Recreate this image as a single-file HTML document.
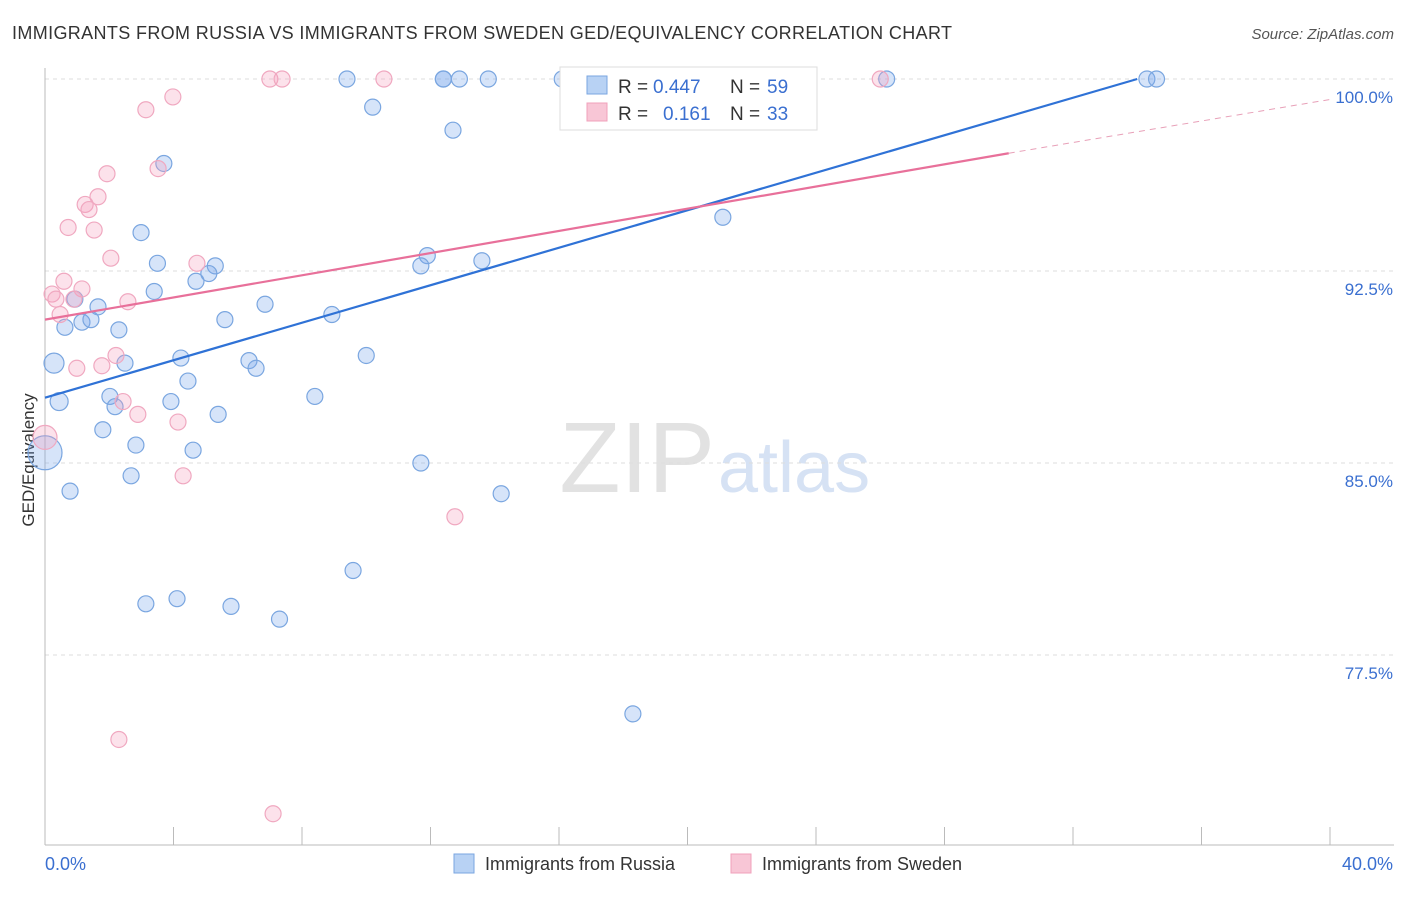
<!DOCTYPE html>
<html><head><meta charset="utf-8"><style>
body{margin:0;background:#fff;font-family:"Liberation Sans",sans-serif}
svg text{font-family:"Liberation Sans",sans-serif}
</style></head><body>
<svg id="c" width="1406" height="892">
<text x="12" y="39" font-size="18" fill="#333" textLength="940">IMMIGRANTS FROM RUSSIA VS IMMIGRANTS FROM SWEDEN GED/EQUIVALENCY CORRELATION CHART</text>
<text x="1394" y="39" font-size="15" fill="#555" font-style="italic" text-anchor="end">Source: ZipAtlas.com</text>
<text x="715" y="492" font-size="100" fill="#e2e2e2" text-anchor="end" font-family="Liberation Serif">ZIP</text>
<text x="718" y="492" font-size="72" fill="#d6e2f4">atlas</text>
<text transform="translate(34,460) rotate(-90)" font-size="17" fill="#333" text-anchor="middle">GED/Equivalency</text>
<g id="grid"></g><g id="marks"></g>
<g>
<rect x="560" y="67" width="257" height="63" fill="#fff" stroke="#ddd"/>
<rect x="587" y="76" width="20" height="18" fill="#b8d2f4" stroke="#7aa6e0"/>
<rect x="587" y="103" width="20" height="18" fill="#f8c6d6" stroke="#f0a0bb"/>
<text x="618" y="93" font-size="19" fill="#333">R =</text>
<text x="653" y="93" font-size="19" fill="#3a6fd0">0.447</text>
<text x="730" y="93" font-size="19" fill="#333">N =</text>
<text x="767" y="93" font-size="19" fill="#3a6fd0">59</text>
<text x="618" y="120" font-size="19" fill="#333">R =</text>
<text x="663" y="120" font-size="19" fill="#3a6fd0">0.161</text>
<text x="730" y="120" font-size="19" fill="#333">N =</text>
<text x="767" y="120" font-size="19" fill="#3a6fd0">33</text>
</g>
<g>
<rect x="454" y="854" width="20" height="19" fill="#b8d2f4" stroke="#7aa6e0"/>
<text x="485" y="870" font-size="18" fill="#333">Immigrants from Russia</text>
<rect x="731" y="854" width="20" height="19" fill="#f8c6d6" stroke="#f0a0bb"/>
<text x="762" y="870" font-size="18" fill="#333">Immigrants from Sweden</text>
</g>
</svg>
<script>
const yTicks=[100,92.5,85,77.5];
const yTickLabels=["100.0%","92.5%","85.0%","77.5%"];
const russiaX=[9.4,12.4,12.4,12.9,13.8,16.1,26.2,34.3,34.6,10.2,12.7,3.7,2.99,21.1,11.9,11.7,13.6,3.5,5.3,5.1,4.7,3.4,1.65,0.93,6.85,8.93,5.6,1.15,1.43,0.62,2.3,0.28,2.49,4.23,6.35,6.57,10.0,4.45,2.02,8.4,0.44,2.18,3.92,5.39,1.8,2.83,4.61,0.0,11.7,2.68,0.78,14.2,9.59,3.14,4.11,5.79,7.3,18.3];
const russiaY=[100,100,100,100,100,100,100,100,100,98.9,98.0,96.7,94.0,94.6,93.1,92.7,92.9,92.8,92.7,92.4,92.1,91.7,91.1,91.4,91.2,90.8,90.6,90.5,90.6,90.3,90.2,88.9,88.9,89.1,89.0,88.7,89.2,88.2,87.6,87.6,87.4,87.2,87.4,86.9,86.3,85.7,85.5,85.4,85.0,84.5,83.9,83.8,80.8,79.5,79.7,79.4,78.9,75.2];
const russiaR=[8,8,8,8,8,8,8,8,8,8,8,8,8,8,8,8,8,8,8,8,8,8,8,8,8,8,8,8,8,8,8,10,8,8,8,8,8,8,8,8,9,8,8,8,8,8,8,17,8,8,8,8,8,8,8,8,8,8];
const swedenX=[7.0,7.38,10.55,26.0,3.98,3.14,1.93,3.52,1.65,1.25,1.37,0.72,1.53,2.05,4.73,0.59,1.15,0.22,0.34,0.9,2.58,0.47,2.21,1.77,0.99,2.43,2.89,4.14,0.0,4.3,12.76,2.3,7.1];
const swedenY=[100,100,100,100,99.3,98.8,96.3,96.5,95.4,95.1,94.9,94.2,94.1,93.0,92.8,92.1,91.8,91.6,91.4,91.4,91.3,90.8,89.2,88.8,88.7,87.4,86.9,86.6,86.0,84.5,82.9,74.2,71.3];
const swedenR=[8,8,8,8,8,8,8,8,8,8,8,8,8,8,8,8,8,8,8,8,8,8,8,8,8,8,8,8,12,8,8,8,8];
const russiaTrend=[[0,87.55],[34.0,100]];
const swedenTrend=[[0,90.6],[30.0,97.1],[40.0,99.2]];
const X0=45,X1=1330,Y100=79,PPY=25.6;
const sx=v=>X0+(X1-X0)*v/40, sy=v=>Y100+(100-v)*PPY;
const NS="http://www.w3.org/2000/svg";
const mk=(t,a,p)=>{const e=document.createElementNS(NS,t);for(const k in a)e.setAttribute(k,a[k]);p.appendChild(e);return e;};
const g=document.getElementById('grid'),m=document.getElementById('marks');
yTicks.forEach((t,i)=>{
 const l=mk('line',{x1:X0,x2:1394,y1:sy(t),y2:sy(t),stroke:'#ddd','stroke-dasharray':'4,4'},g);
 
 
 const tx=mk('text',{x:1393,y:sy(t)+24,'font-size':17,fill:'#3a6fd0','text-anchor':'end'},g);tx.textContent=yTickLabels[i];
 
 
});
mk('line',{x1:X0,x2:X0,y1:68,y2:845,stroke:'#bbb'},g);
mk('line',{x1:X0,x2:1394,y1:845,y2:845,stroke:'#bbb'},g);
for(let i=0;i<=10;i++){const t=mk('line',{x1:sx(i*4),x2:sx(i*4),y1:827,y2:845,stroke:'#bbb'},g);
 
 }
let a=mk('text',{x:45,y:870,'font-size':18,fill:'#3a6fd0'},g);a.textContent='0.0%';


a=mk('text',{x:1393,y:870,'font-size':18,fill:'#3a6fd0','text-anchor':'end'},g);a.textContent='40.0%';


function pts(xs,ys,rs,fill,stroke,name){xs.forEach((x,i)=>{const c=mk('circle',{cx:sx(x),cy:sy(ys[i]),r:rs[i],fill:fill,stroke:stroke,'stroke-width':1.2},m);
 
 });}
pts(russiaX,russiaY,russiaR,'rgba(120,165,235,0.3)','#7aa6e0','russia-point');
pts(swedenX,swedenY,swedenR,'rgba(245,160,190,0.3)','#f0a8c0','sweden-point');
let l=mk('line',{x1:sx(russiaTrend[0][0]),y1:sy(russiaTrend[0][1]),x2:sx(russiaTrend[1][0]),y2:sy(russiaTrend[1][1]),stroke:'#2f72d6','stroke-width':2.2},m);


l=mk('line',{x1:sx(swedenTrend[0][0]),y1:sy(swedenTrend[0][1]),x2:sx(swedenTrend[1][0]),y2:sy(swedenTrend[1][1]),stroke:'#e8709a','stroke-width':2.2},m);


l=mk('line',{x1:sx(swedenTrend[1][0]),y1:sy(swedenTrend[1][1]),x2:sx(swedenTrend[2][0]),y2:sy(swedenTrend[2][1]),stroke:'#e8a0b8','stroke-width':1,'stroke-dasharray':'6,5'},m);


</script>
</body></html>
